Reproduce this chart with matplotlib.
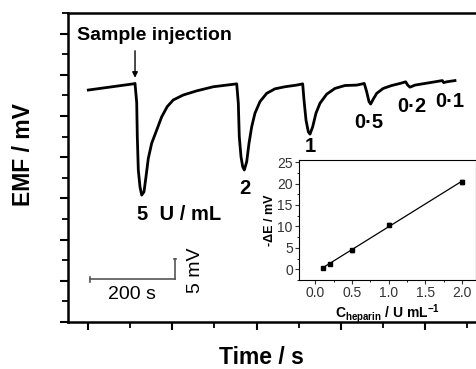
import numpy as np
import matplotlib
matplotlib.use('Agg')
import matplotlib.pyplot as plt
from matplotlib.ticker import MultipleLocator

plt.rcParams['font.family'] = ['Liberation Sans', 'DejaVu Sans']
plt.rcParams['mathtext.fontset'] = 'custom'
plt.rcParams['mathtext.rm'] = 'Liberation Sans'
plt.rcParams['mathtext.bf'] = 'Liberation Sans:bold'

# potentiometric trace (time in s, EMF in mV, relative)
time_s = [0.7, 107.5, 111.6, 115.6, 117.0, 119.4, 123.4, 127.5, 132.9, 137.7,
          143.1, 151.2, 163.1, 174.9, 188.2, 202.5, 226.2, 258.0, 297.4, 329.2,
          353.0, 356.8, 359.1, 363.2, 367.2, 371.0, 376.7, 382.2, 388.6, 396.4,
          408.3, 424.2, 443.9, 467.6, 495.4, 509.6, 512.7, 517.5, 522.9, 527.0,
          533.4, 541.2, 550.7, 566.6, 586.3, 610.0, 637.8, 655.8, 661.5, 667.0,
          671.0, 677.2, 685.3, 700.9, 720.9, 740.6, 754.1, 758.8, 764.3, 776.2,
          799.9, 823.6, 841.0, 844.3, 851.4, 871.1]
emf_mv = [56.3, 57.8, 57.9, 53.2, 45.0, 36.9, 32.8, 30.8, 31.6, 35.3,
          39.7, 43.4, 46.6, 49.8, 52.3, 53.9, 55.1, 56.1, 57.1, 57.5,
          57.8, 53.1, 45.0, 40.1, 37.7, 36.9, 38.9, 43.4, 47.4, 50.7,
          53.5, 55.5, 56.6, 57.1, 57.5, 57.8, 53.9, 49.0, 46.2, 45.6,
          47.4, 50.7, 53.1, 55.3, 56.7, 57.4, 57.5, 57.9, 55.9, 53.5,
          52.9, 54.1, 55.5, 56.7, 57.4, 57.9, 58.3, 57.5, 57.0, 57.5,
          57.9, 58.3, 58.6, 58.1, 58.3, 58.6]

peak_labels = ['5  U / mL', '2', '1', '0·5', '0·2', '0·1']

# calibration inset
conc = [0.1, 0.2, 0.5, 1.0, 2.0]
dE = [0.4, 1.2, 4.4, 10.4, 20.4]
dE_err = [0.2, 0.2, 0.3, 0.3, 0.5]

fig = plt.figure(figsize=(4.77, 3.69), dpi=100)
ax = fig.add_axes([68/477, 47/369, 432/477, 309/369])
ax.plot(time_s, emf_mv, color='black', lw=2.0, solid_joinstyle='round')
ax.set_xlim(-47.5, 978)
ax.set_ylim(0, 75)
ax.xaxis.set_major_locator(MultipleLocator(200))
ax.xaxis.set_minor_locator(MultipleLocator(100))
ax.yaxis.set_major_locator(MultipleLocator(10))
ax.yaxis.set_minor_locator(MultipleLocator(5))
ax.tick_params(which='major', direction='out', length=6, width=1.5,
               labelbottom=False, labelleft=False)
ax.tick_params(which='minor', direction='out', length=4, width=1.3)
for s in ax.spines.values():
    s.set_linewidth(1.8)

fig.text(24/477, 1 - 155/369, 'EMF / mV', rotation=90, ha='center', va='center',
         fontsize=16.5, fontweight='bold')
fig.text(261/477, 1 - 357/369, 'Time / s', ha='center', va='center',
         fontsize=16.5, fontweight='bold')

ax.text(-26, 69.6, 'Sample injection', fontsize=14, fontweight='bold', va='center')
ax.annotate('', xy=(111.6, 58.6), xytext=(111.6, 66.5),
            arrowprops=dict(arrowstyle='-|>', color='black', lw=1, mutation_scale=8))

label_pos = [(116, 26.0), (372.7, 32.5), (527, 42.5), (667, 48.5), (769, 52.4), (859, 53.6)]
for lab, (x, y) in zip(peak_labels, label_pos):
    ha = 'left' if lab.startswith('5') else 'center'
    ax.text(x, y, lab, fontsize=14.5, fontweight='bold', ha=ha, va='center')

# scale bar
bar_col = '#555555'
ax.plot([4.7, 206.5], [10.4, 10.4], color=bar_col, lw=1.2)
ax.plot([4.7, 4.7], [9.8, 11.0], color=bar_col, lw=1.2)
ax.plot([206.5, 206.5], [10.4, 15.4], color=bar_col, lw=1.2)
ax.plot([203, 210], [15.4, 15.4], color=bar_col, lw=1.2)
ax.text(104, 6.6, '200 s', fontsize=14, ha='center', va='center')
ax.text(256, 12.6, '5 mV', fontsize=14, ha='center', va='center', rotation=90)

# inset
ins = fig.add_axes([299/477, 89/369, 177/477, 120/369])
fit = np.polyfit(conc, dE, 1)
xf = np.array([conc[0], conc[-1]])
ins.plot(xf, np.polyval(fit, xf), color='black', lw=0.9)
ins.errorbar(conc, dE, yerr=dE_err, fmt='s', color='black', ms=3.5,
             capsize=1.5, elinewidth=0.8)
ins.set_xlim(-0.22, 2.19)
ins.set_ylim(-2.5, 25.5)
ins.xaxis.set_major_locator(MultipleLocator(0.5))
ins.xaxis.set_minor_locator(MultipleLocator(0.25))
ins.yaxis.set_major_locator(MultipleLocator(5))
ins.yaxis.set_minor_locator(MultipleLocator(2.5))
ins.tick_params(which='major', direction='out', length=3, width=0.8,
                labelsize=10, pad=1.5, colors='#333333')
ins.tick_params(which='minor', direction='out', length=1.5, width=0.6)
for s in ins.spines.values():
    s.set_linewidth(0.8)
ins.set_ylabel('-ΔE / mV', fontsize=9, fontweight='bold', labelpad=1)
ins.set_xlabel(r'C$_{\mathbf{heparin}}$ / U mL$^{\mathbf{-1}}$', fontsize=10,
               fontweight='bold', labelpad=1)

fig.savefig('out.png', dpi=100)
